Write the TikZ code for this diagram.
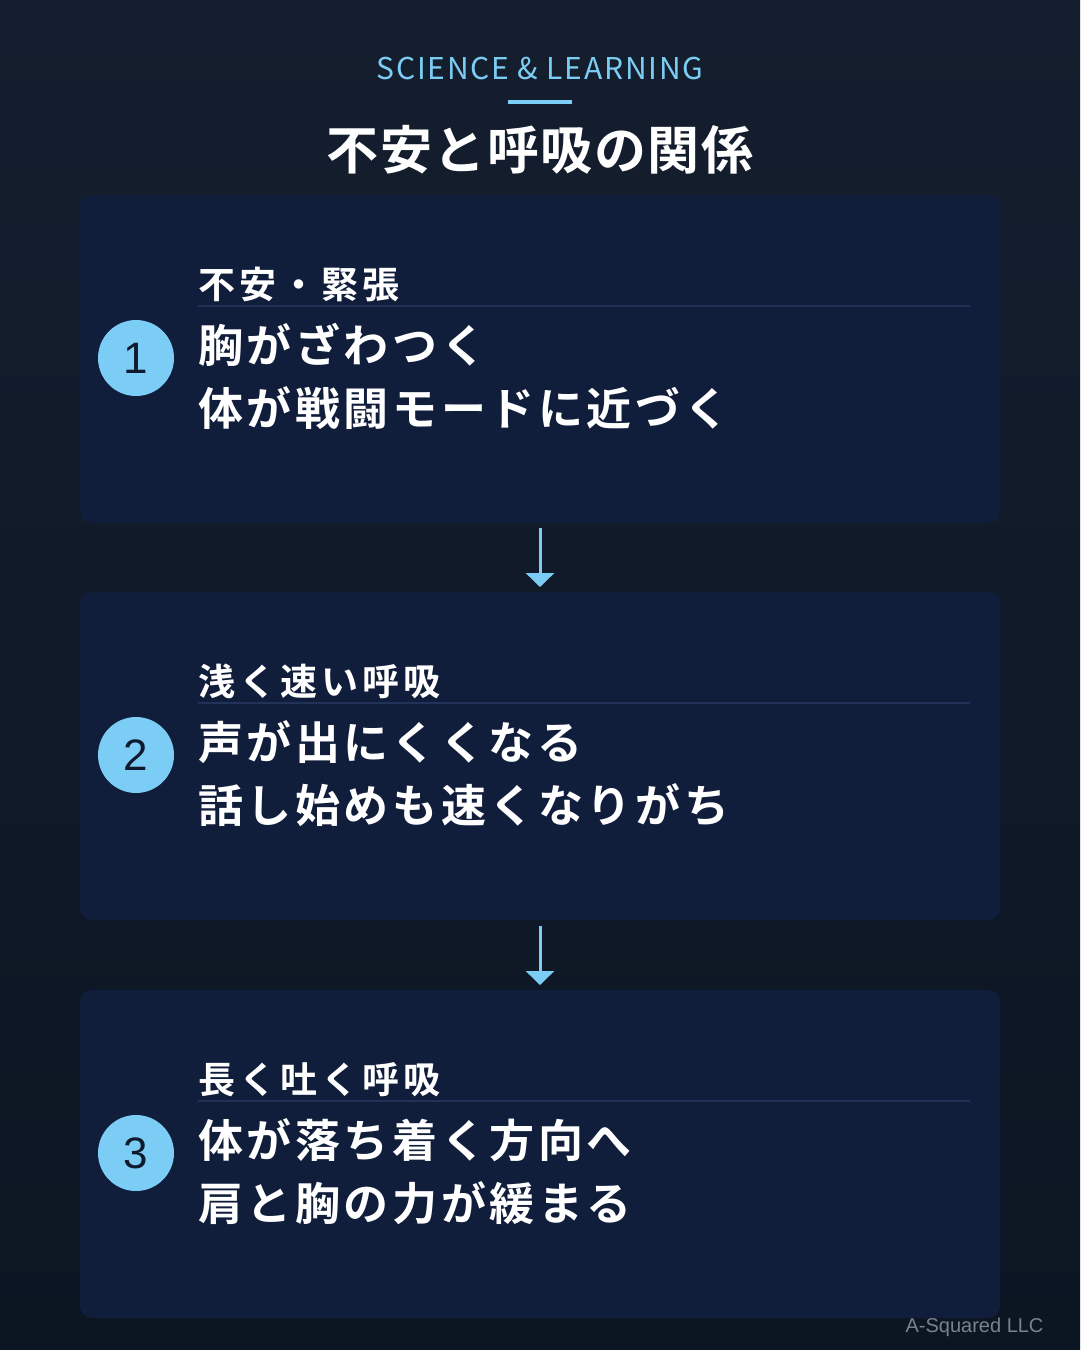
\documentclass[tikz,border=0pt]{standalone}
\usepackage{fontspec}
\usetikzlibrary{arrows.meta}
\setmainfont{Noto Sans CJK JP}
\newfontfamily\jpb[LetterSpace=8]{Noto Sans CJK JP Bold}
\newfontfamily\jph[LetterSpace=11]{Noto Sans CJK JP Bold}
\newfontfamily\jpt[LetterSpace=3]{Noto Sans CJK JP Bold}
\newfontfamily\jpl[LetterSpace=6]{Noto Sans CJK JP}
\newfontfamily\numf{Liberation Sans}
\newfontfamily\footf{Liberation Sans}
\definecolor{bgtop}{HTML}{151E2E}
\definecolor{bgbot}{HTML}{0C1522}
\definecolor{card}{HTML}{101D3B}
\definecolor{accent}{HTML}{7CCDF5}
\definecolor{rule}{HTML}{223157}
\definecolor{numtxt}{HTML}{0F1A2E}
\definecolor{foot}{HTML}{7A8290}
\begin{document}
\begin{tikzpicture}[x=1pt,y=-1pt,
  cardbox/.style={fill=card,rounded corners=12pt},
  numdot/.style={circle,fill=accent,minimum size=76pt,inner sep=0pt,text=numtxt,font=\numf\fontsize{44}{44}\selectfont},
  headtxt/.style={anchor=base west,text=white,inner sep=0pt,font=\jph\fontsize{37}{40}\selectfont},
  bodytxt/.style={anchor=base west,text=white,inner sep=0pt,font=\jpb\fontsize{45}{50}\selectfont},
  flowarrow/.style={draw=accent,line width=3pt,-{Triangle[width=28pt,length=14pt]}}]
\shade[top color=bgtop,bottom color=bgbot] (0,0) rectangle (1080,1350);
\useasboundingbox (0,0) rectangle (1080,1350);
\node[text=accent,font=\jpl\fontsize{30}{30}\selectfont] (kicker) at (540,69) {SCIENCE \& LEARNING};
\fill[accent] (508,100) rectangle (572,104);
\node[text=white,font=\jpt\fontsize{52}{56}\selectfont] (title) at (540,150) {不安と呼吸の関係};
\foreach \i/\y/\h/\a/\b in {1/195/不安・緊張/胸がざわつく/体が戦闘モードに近づく,
                          2/592/浅く速い呼吸/声が出にくくなる/話し始めも速くなりがち,
                          3/990/長く吐く呼吸/体が落ち着く方向へ/肩と胸の力が緩まる}{
  \fill[cardbox] (80,\y) rectangle (1000,\y+328);
  \node[numdot] (n\i) at (136,\y+163) {\i};
  \node[headtxt] (h\i) at (198,\y+103) {\h};
  \draw[rule,line width=1.5pt] (198,\y+111) -- (970,\y+111);
  \node[bodytxt] (a\i) at (198,\y+167) {\a};
  \node[bodytxt] (b\i) at (198,\y+230) {\b};
}
\coordinate (s1) at (540,528); \coordinate (e1) at (540,587);
\coordinate (s2) at (540,926); \coordinate (e2) at (540,985);
\draw[flowarrow] (s1) -- (e1);
\draw[flowarrow] (s2) -- (e2);
\node[anchor=base east,text=foot,font=\footf\fontsize{20}{20}\selectfont] (footer) at (1047,1332) {A-Squared LLC};
\end{tikzpicture}
\end{document}
